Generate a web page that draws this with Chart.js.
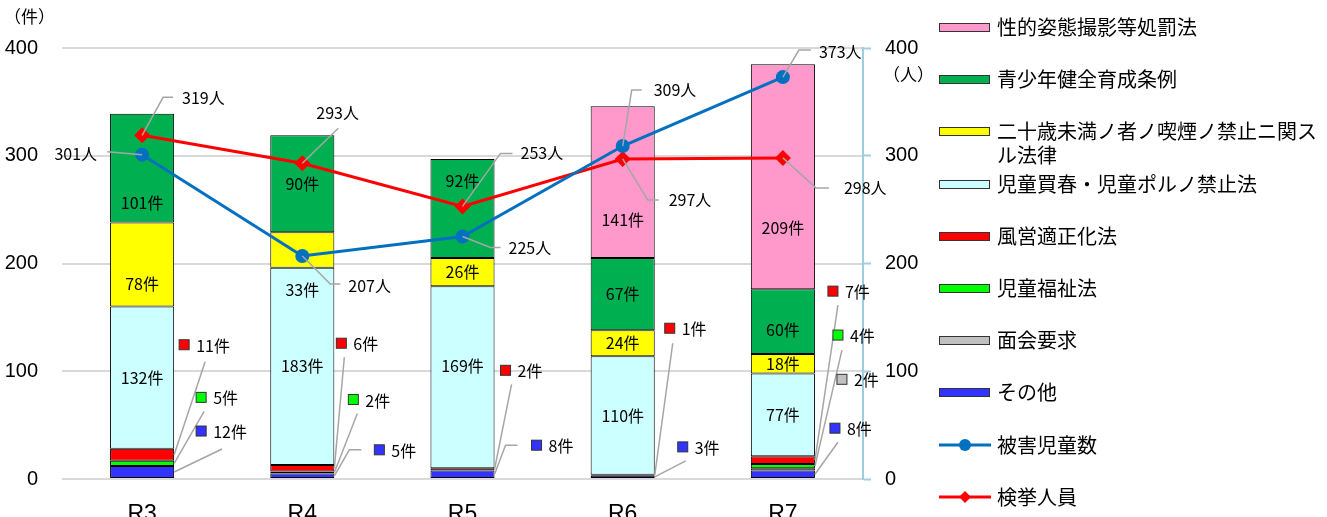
<!DOCTYPE html>
<html>
<head>
<meta charset="utf-8">
<script src="https://cdn.jsdelivr.net/npm/chart.js@4"></script>
<style>
  html, body { margin: 0; padding: 0; background: #fff; }
  #wrap { width: 1327px; height: 517px; }
</style>
</head>
<body>
<div id="wrap"><canvas id="chart" width="1327" height="517"></canvas></div>
<script>
// data (件 = cases, 人 = persons)
const years = ["R3", "R4", "R5", "R6", "R7"];
const sonota       = [12, 5, 8, 3, 8];        // その他
const menkai       = [0, 0, 0, 0, 2];         // 面会要求
const jidoFukushi  = [5, 2, 0, 0, 4];         // 児童福祉法
const fuei         = [11, 6, 2, 1, 7];        // 風営適正化法
const jidoPorno    = [132, 183, 169, 110, 77];// 児童買春・児童ポルノ禁止法
const hatachi      = [78, 33, 26, 24, 18];    // 二十歳未満ノ者ノ喫煙ノ禁止ニ関スル法律
const seishonen    = [101, 90, 92, 67, 60];   // 青少年健全育成条例
const seitekiShitai = [0, 0, 0, 141, 209];    // 性的姿態撮影等処罰法
const higaiJido    = [301, 207, 225, 309, 373]; // 被害児童数
const kenkyo       = [319, 293, 253, 297, 298]; // 検挙人員
const axisMax = 400, axisStep = 100;

const fontJP = '"Noto Sans CJK JP", "Noto Sans CJK SC", sans-serif';
const fontNum = '"Liberation Sans", Arial, sans-serif';
const leaderColor = "#a6a6a6";

function bar(key, label, data, color) {
  return {
    type: "bar", key, label, data: data.map(v => v || null),
    backgroundColor: color, borderColor: "#000", borderWidth: 1,
    borderSkipped: false, stack: "s", yAxisID: "y", order: 2,
    barPercentage: 0.4, categoryPercentage: 1.0
  };
}

const datasets = [
  bar("sonota", "その他", sonota, "#3333ff"),
  bar("menkai", "面会要求", menkai, "#c0c0c0"),
  bar("fukushi", "児童福祉法", jidoFukushi, "#00ff00"),
  bar("fuei", "風営適正化法", fuei, "#ff0000"),
  bar("porno", "児童買春・児童ポルノ禁止法", jidoPorno, "#ccffff"),
  bar("hatachi", "二十歳未満ノ者ノ喫煙ノ禁止ニ関スル法律", hatachi, "#ffff00"),
  bar("seishonen", "青少年健全育成条例", seishonen, "#00b050"),
  bar("seiteki", "性的姿態撮影等処罰法", seitekiShitai, "#ff99cc"),
  { type: "line", key: "higai", label: "被害児童数", data: higaiJido, yAxisID: "y2", order: 0,
    borderColor: "#0070c0", backgroundColor: "#0070c0", borderWidth: 3,
    pointStyle: "circle", pointRadius: 7, pointBorderWidth: 0 },
  { type: "line", key: "kenkyo", label: "検挙人員", data: kenkyo, yAxisID: "y2", order: 1,
    borderColor: "#ff0000", backgroundColor: "#ff0000", borderWidth: 3,
    pointStyle: "rectRot", pointRadius: 8, pointBorderWidth: 0 }
];

// label placement tweaks (pixels)
const innerShift = { "seishonen-0": 35, "hatachi-0": 19, "hatachi-1": 40, "porno-2": -11,
                     "seishonen-2": -28, "seiteki-3": 38, "seiteki-4": 51, "seishonen-4": 8 };
// callouts for thin segments: square offset + leader points, relative to bar right edge / segment middle
const callouts = [
  { key: "fuei", i: 0, sq: [10, -110], pts: [[31, -93]] },
  { key: "fukushi", i: 0, sq: [27, -66], pts: [[30, -52]] },
  { key: "sonota", i: 0, sq: [27, -41], pts: [[48, -23]] },
  { key: "fuei", i: 1, sq: [7, -125], pts: [[10, -111]] },
  { key: "fukushi", i: 1, sq: [19, -73], pts: [[23, -59]] },
  { key: "sonota", i: 1, sq: [45, -26], pts: [[15, -26], [27, -26]] },
  { key: "fuei", i: 2, sq: [11, -99], pts: [[17, -85]] },
  { key: "sonota", i: 2, sq: [42, -29], pts: [[11, -29], [23, -29]] },
  { key: "fuei", i: 3, sq: [15, -147], pts: [[18, -132]] },
  { key: "sonota", i: 3, sq: [28, -30], pts: [[31, -16]] },
  { key: "fuei", i: 4, sq: [18, -169], pts: [[23, -155]] },
  { key: "fukushi", i: 4, sq: [23, -131], pts: [[27, -116]] },
  { key: "menkai", i: 4, sq: [27, -90], pts: [] },
  { key: "sonota", i: 4, sq: [20, -46], pts: [[23, -32]] }
];
// person labels on the line points
const personLabels = {
  higai: [
    { pts: [[-35, -3]], text: [-45, -1], align: "right" },
    { pts: [[28, 28], [38, 28]], text: [46, 30] },
    { pts: [[28, 11], [38, 11]], text: [46, 11] },
    { pts: [[9, -56], [19, -56]], text: [31, -56] },
    { pts: [[16, -27], [28, -27]], text: [36, -25] }
  ],
  kenkyo: [
    { pts: [[21, -38], [31, -38]], text: [40, -37] },
    { pts: [[36, -35]], text: [14, -50] },
    { pts: [[38, -53], [50, -53]], text: [58, -53] },
    { pts: [[25, 41], [36, 41]], text: [46, 41] },
    { pts: [[33, 30], [46, 30]], text: [61, 30] }
  ]
};
const legendOrder = ["seiteki", "seishonen", "hatachi", "porno", "fuei", "fukushi", "menkai", "sonota", "higai", "kenkyo"];
const legendWrap = { hatachi: ["二十歳未満ノ者ノ喫煙ノ禁止ニ関ス", "ル法律"] };

function line(ctx, pts) {
  ctx.beginPath();
  ctx.moveTo(pts[0][0], pts[0][1]);
  for (let k = 1; k < pts.length; k++) ctx.lineTo(pts[k][0], pts[k][1]);
  ctx.stroke();
}

const labelsPlugin = {
  id: "labels",
  afterDatasetsDraw(chart) {
    const ctx = chart.ctx;
    const byKey = {};
    chart.data.datasets.forEach((ds, d) => byKey[ds.key] = { ds, meta: chart.getDatasetMeta(d) });
    ctx.save();
    ctx.textBaseline = "middle";

    // values inside the big segments
    ctx.fillStyle = "#000";
    ctx.font = "16px " + fontJP;
    ctx.textAlign = "center";
    chart.data.datasets.forEach((ds, d) => {
      if (ds.type !== "bar") return;
      chart.getDatasetMeta(d).data.forEach((el, i) => {
        const v = ds.data[i];
        if (!v || v < 15) return;
        const y = (el.y + el.base) / 2 + (innerShift[ds.key + "-" + i] || 0);
        ctx.fillText(v + "件", el.x, y);
      });
    });

    // callouts for thin segments
    ctx.lineWidth = 1.5;
    callouts.forEach(c => {
      const { ds, meta } = byKey[c.key];
      const el = meta.data[c.i];
      const ax = el.x + el.width / 2, ay = (el.y + el.base) / 2;
      ctx.strokeStyle = leaderColor;
      if (c.pts.length) line(ctx, [[ax, ay]].concat(c.pts.map(p => [ax + p[0], ay + p[1]])));
      const sx = ax + c.sq[0], sy = ay + c.sq[1];
      ctx.fillStyle = ds.backgroundColor;
      ctx.fillRect(sx - 5, sy - 5, 10, 10);
      ctx.strokeStyle = "#333";
      ctx.lineWidth = 1;
      ctx.strokeRect(sx - 5, sy - 5, 10, 10);
      ctx.lineWidth = 1.5;
      ctx.fillStyle = "#000";
      ctx.textAlign = "left";
      ctx.fillText(ds.data[c.i] + "件", sx + 12, sy + 1);
    });

    // person labels
    ["higai", "kenkyo"].forEach(k => {
      const { ds, meta } = byKey[k];
      meta.data.forEach((pt, i) => {
        const spec = personLabels[k][i];
        ctx.strokeStyle = leaderColor;
        line(ctx, [[pt.x, pt.y]].concat(spec.pts.map(p => [pt.x + p[0], pt.y + p[1]])));
        ctx.fillStyle = "#000";
        ctx.textAlign = spec.align || "left";
        ctx.fillText(ds.data[i] + "人", pt.x + spec.text[0], pt.y + spec.text[1]);
      });
    });
    ctx.restore();
  },
  afterDraw(chart) {
    const ctx = chart.ctx;
    ctx.save();
    ctx.textBaseline = "middle";
    ctx.fillStyle = "#000";
    // axis unit labels
    ctx.font = "17px " + fontJP;
    ctx.textAlign = "left";
    ctx.fillText("（件）", 4, 17);
    const y2 = chart.scales.y2;
    ctx.fillText("（人）", y2.left + 20, y2.getPixelForValue(axisMax) + 27);

    // legend
    const lx = 939, tx = 997;
    ctx.font = "20px " + fontJP;
    legendOrder.forEach((key, r) => {
      const ds = chart.data.datasets.find(d => d.key === key);
      const y = Math.round(27 + r * 52.2);
      if (ds.type === "bar") {
        ctx.fillStyle = ds.backgroundColor;
        ctx.fillRect(lx, y - 4, 51, 8);
        ctx.strokeStyle = "#333";
        ctx.lineWidth = 1;
        ctx.strokeRect(lx + 0.5, y - 3.5, 50, 8);
      } else {
        ctx.strokeStyle = ds.borderColor;
        ctx.lineWidth = 3;
        line(ctx, [[lx, y], [lx + 52, y]]);
        ctx.fillStyle = ds.borderColor;
        ctx.beginPath();
        if (ds.pointStyle === "circle") {
          ctx.arc(lx + 26, y, 6, 0, Math.PI * 2);
        } else {
          ctx.moveTo(lx + 26, y - 6); ctx.lineTo(lx + 32, y);
          ctx.lineTo(lx + 26, y + 6); ctx.lineTo(lx + 20, y);
        }
        ctx.fill();
      }
      ctx.fillStyle = "#000";
      const lines = legendWrap[key] || [ds.label];
      lines.forEach((t, j) => ctx.fillText(t, tx, y + j * 24));
    });
    ctx.restore();
  }
};

new Chart(document.getElementById("chart"), {
  data: { labels: years, datasets },
  plugins: [labelsPlugin],
  options: {
    responsive: false,
    animation: false,
    devicePixelRatio: 1,
    layout: { padding: { top: 48, right: 389, bottom: 0, left: 0 } },
    plugins: { legend: { display: false }, tooltip: { enabled: false } },
    scales: {
      x: {
        grid: { display: false, drawTicks: false },
        border: { display: false },
        ticks: { color: "#000", font: { family: fontNum, size: 23 }, padding: 22 },
        afterFit: s => { s.height = 38; }
      },
      y: {
        position: "left", stacked: true, min: 0, max: axisMax,
        ticks: { stepSize: axisStep, color: "#000", font: { family: fontNum, size: 20 }, padding: 24 },
        grid: { color: "#d9d9d9", lineWidth: 2, drawTicks: false },
        border: { display: false },
        afterFit: s => { s.width = 62; }
      },
      y2: {
        position: "right", min: 0, max: axisMax,
        ticks: { stepSize: axisStep, color: "#000", font: { family: fontNum, size: 20 }, padding: 14 },
        grid: { drawOnChartArea: false, tickLength: 8, tickColor: "#9ccde3", tickWidth: 2 },
        border: { color: "#9ccde3", width: 2 },
        afterFit: s => { s.width = 75; }
      }
    }
  }
});
</script>
</body>
</html>
